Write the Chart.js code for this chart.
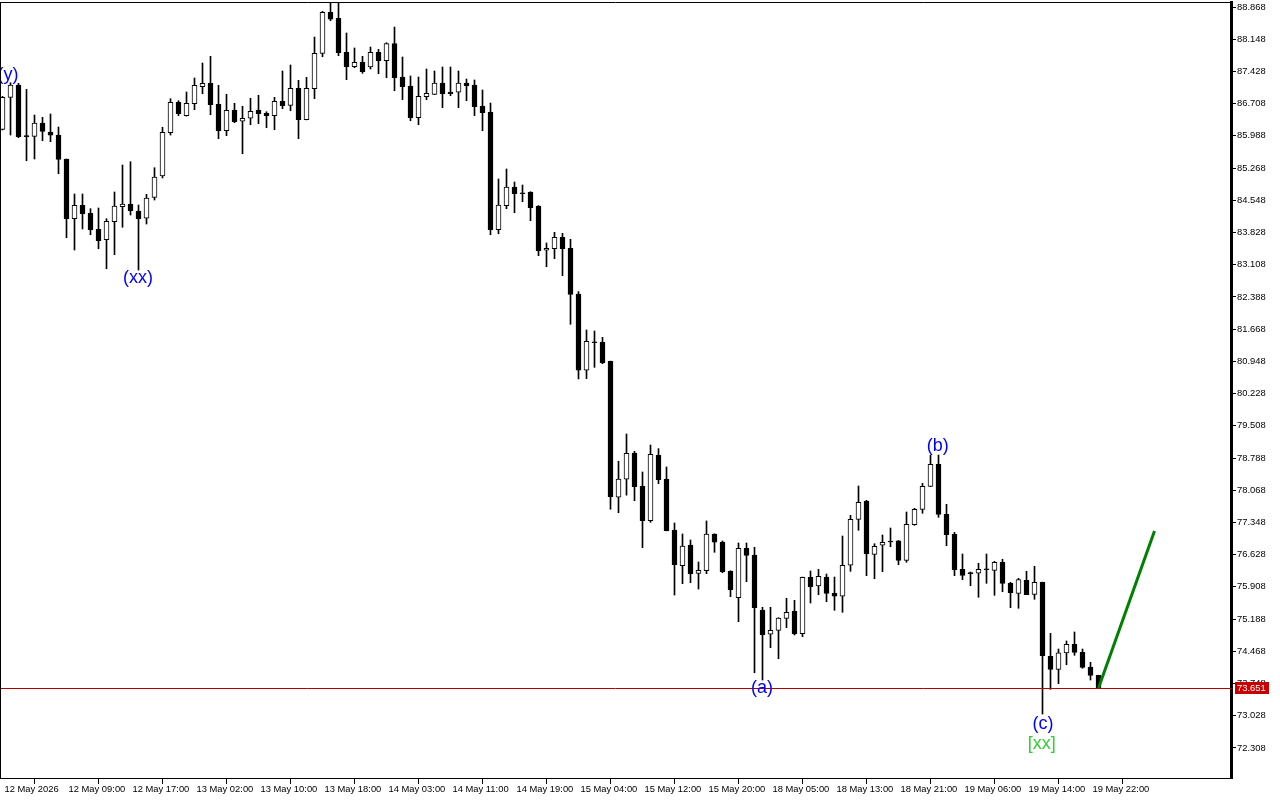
<!DOCTYPE html>
<html>
<head>
<meta charset="utf-8">
<script src="https://cdn.jsdelivr.net/npm/chart.js@4"></script>
<style>
html,body{margin:0;padding:0;background:#fff;overflow:hidden;}
canvas{display:block;}
</style>
</head>
<body>
<canvas id="c" width="1280" height="800"></canvas>
<script>
// ---- data (hourly candles, index 0..137) ----
const openP = [86.135,86.850,87.125,85.978,85.978,86.275,86.075,86.007,85.471,84.137,
84.437,84.258,83.900,83.668,84.070,84.405,84.465,84.309,84.146,84.615,
85.091,86.059,86.738,86.439,86.707,87.087,87.163,86.694,86.103,86.559,
86.314,86.381,86.559,86.492,86.439,86.760,86.671,87.051,86.350,87.042,
87.833,88.750,88.615,87.855,87.534,87.632,87.527,87.855,87.668,88.048,
87.303,87.103,86.394,86.863,86.917,87.170,86.968,86.962,87.170,87.125,
86.656,86.522,83.891,84.428,84.845,84.704,84.734,84.421,83.431,83.467,
83.721,83.476,82.454,80.749,81.374,81.374,80.950,77.911,78.313,78.900,
78.156,77.387,78.849,78.320,77.180,76.382,76.844,76.210,76.270,77.091,
76.912,76.263,75.667,76.770,76.621,75.392,74.849,74.938,75.206,75.363,
74.862,76.122,75.928,76.129,75.765,75.698,76.391,77.418,77.828,76.636,
76.838,76.934,76.940,76.502,77.298,77.642,78.156,78.648,77.530,77.083,
76.301,76.218,76.212,76.301,76.279,76.458,75.988,75.765,76.055,75.742,
76.011,74.357,74.066,74.430,74.625,74.446,74.118,73.932];
const highP = [86.870,87.176,87.163,87.029,86.454,86.403,86.477,86.186,85.471,84.689,
84.689,84.361,84.376,84.137,84.734,85.337,85.411,84.443,84.682,85.277,
86.179,86.819,86.774,86.968,87.281,87.616,87.766,87.118,86.917,86.716,
86.649,86.828,86.894,86.528,86.850,87.438,87.572,87.230,87.297,88.197,
88.772,88.957,88.957,88.287,87.952,87.766,87.974,87.922,88.070,88.420,
87.751,87.326,87.303,87.482,87.438,87.527,87.527,87.438,87.259,87.237,
87.013,86.722,85.024,85.248,84.957,84.890,84.740,84.430,83.594,83.833,
83.810,83.676,82.506,81.650,81.627,81.486,80.955,78.716,79.325,78.938,
78.476,79.079,78.998,78.588,77.336,77.091,76.956,76.464,77.382,77.095,
76.935,76.268,76.889,76.889,76.792,75.452,75.452,75.220,75.653,75.608,
76.128,76.263,76.301,76.196,76.129,77.045,77.508,78.163,77.843,76.873,
77.068,77.224,76.945,77.582,77.664,78.223,78.855,78.855,77.754,77.128,
76.643,76.241,76.435,76.643,76.480,76.525,76.011,76.100,76.256,76.368,
76.015,74.871,74.520,74.699,74.900,74.520,74.222,73.935];
const lowP = [86.120,86.007,85.947,85.433,85.471,85.880,85.858,85.142,83.712,83.437,
83.907,83.779,83.466,83.019,83.332,83.945,84.219,82.990,84.018,84.555,
85.047,86.007,86.439,86.430,86.573,86.930,86.461,85.925,85.992,86.282,
85.589,86.238,86.260,86.170,86.126,86.595,86.550,85.925,86.345,86.819,
87.757,88.562,87.780,87.243,87.511,87.386,87.482,87.378,87.288,86.997,
86.796,86.327,86.238,86.796,86.910,86.618,86.885,86.618,86.774,86.439,
86.103,83.779,83.801,84.361,84.271,84.517,84.092,83.310,83.064,83.243,
82.863,81.777,80.556,80.563,80.815,80.896,77.643,77.567,77.958,77.834,
76.784,77.351,78.215,77.160,75.726,75.979,76.002,75.860,76.203,76.681,
76.225,75.689,75.130,76.024,73.990,73.827,74.549,74.303,74.996,74.833,
74.795,75.548,75.734,75.577,75.385,75.340,76.256,77.173,76.158,76.091,
76.248,76.806,76.404,76.458,77.284,77.553,78.150,77.463,76.829,76.158,
76.069,75.935,75.676,75.988,75.720,75.800,75.443,75.430,75.734,75.631,
73.067,73.619,73.744,74.169,74.379,74.089,73.827,73.633];
const closeP = [86.850,87.125,85.969,85.970,86.275,86.090,86.001,85.464,84.137,84.437,
84.249,83.891,83.645,84.079,84.421,84.465,84.316,84.137,84.599,85.069,
86.067,86.738,86.483,86.716,87.118,87.163,86.685,86.103,86.559,86.305,
86.381,86.537,86.483,86.439,86.760,86.662,87.051,86.350,87.051,87.833,
88.750,88.594,87.847,87.534,87.632,87.422,87.855,87.668,88.048,87.288,
87.087,86.394,86.872,86.939,87.170,86.930,86.930,87.170,87.109,86.640,
86.506,83.891,84.443,84.845,84.696,84.695,84.383,83.421,83.476,83.721,
83.467,82.447,80.749,81.397,81.365,80.912,77.924,78.320,78.894,78.147,
77.387,78.871,78.304,77.165,76.405,76.822,76.203,76.277,77.091,76.906,
76.248,75.845,76.770,76.614,75.443,74.840,74.938,75.213,75.340,74.855,
76.122,75.912,76.145,75.765,75.698,76.391,77.418,77.799,76.650,76.815,
76.904,76.912,76.502,77.307,77.642,78.156,78.648,77.530,77.075,76.292,
76.167,76.203,76.301,76.292,76.458,75.988,75.778,76.069,75.734,76.011,
74.370,74.066,74.437,74.625,74.446,74.111,73.932,73.651];

// time labels at every 8th candle
const xTickIndex = [0,8,16,24,32,40,48,56,64,72,80,88,96,104,112,120,128,136];
const xTickLabels = ["12 May 2026","12 May 09:00","12 May 17:00","13 May 02:00","13 May 10:00",
"13 May 18:00","14 May 03:00","14 May 11:00","14 May 19:00","15 May 04:00","15 May 12:00",
"15 May 20:00","18 May 05:00","18 May 13:00","18 May 21:00","19 May 06:00","19 May 14:00","19 May 22:00"];
const yTicks = [72.308,73.028,73.748,74.468,75.188,75.908,76.628,77.348,78.068,78.788,79.508,
80.228,80.948,81.668,82.388,83.108,83.828,84.548,85.268,85.988,86.708,87.428,88.148,88.868];

const currentPrice = 73.651;
const projIndex = [137, 144];
const projPrice = [73.651, 77.157];

const waveText  = ["(y)","(xx)","(a)","(b)","(c)","[xx]"];
const waveIndex = [0.7,16.95,94.95,116.9,130.05,129.9];
const wavePrice = [87.348,82.811,73.637,79.046,72.844,72.397];
const waveColor = ["#0000ff","#0000ff","#0000ff","#0000ff","#0000ff","#32cd32"];

// ---- chart ----
const N = openP.length;
const idx = Array.from({length:N},(_,i)=>i);
const AXIS_FONT = {family:"'Liberation Sans', Arial, sans-serif", size:9.4};

const extras = {
  id:'extras',
  afterDatasetsDraw(chart){
    const {ctx, chartArea:a, scales:{x,y}} = chart;
    ctx.save();
    const py = Math.round(y.getPixelForValue(currentPrice)) + 0.5;
    ctx.strokeStyle = '#b00000'; ctx.lineWidth = 1;
    ctx.beginPath(); ctx.moveTo(a.left, py); ctx.lineTo(a.right, py); ctx.stroke();
    ctx.strokeStyle = '#008000'; ctx.lineWidth = 3;
    ctx.beginPath();
    ctx.moveTo(x.getPixelForValue(projIndex[0]), y.getPixelForValue(projPrice[0]));
    ctx.lineTo(x.getPixelForValue(projIndex[1]), y.getPixelForValue(projPrice[1]));
    ctx.stroke();
    ctx.font = "18px 'Liberation Sans', Arial, sans-serif";
    ctx.textAlign = 'center'; ctx.textBaseline = 'middle';
    for (let k=0;k<waveText.length;k++){
      ctx.fillStyle = waveColor[k];
      ctx.fillText(waveText[k], x.getPixelForValue(waveIndex[k]), y.getPixelForValue(wavePrice[k]));
    }
    ctx.restore();
  },
  afterDraw(chart){
    const {ctx, chartArea:a, scales:{y}} = chart;
    ctx.save();
    ctx.strokeStyle = '#000'; ctx.lineWidth = 1;
    ctx.beginPath(); ctx.moveTo(0, a.top+0.5); ctx.lineTo(a.right, a.top+0.5); ctx.stroke();
    ctx.beginPath(); ctx.moveTo(0.5, a.top); ctx.lineTo(0.5, a.bottom); ctx.stroke();
    const py = Math.round(y.getPixelForValue(currentPrice));
    ctx.fillStyle = '#c80000';
    ctx.fillRect(a.right+4, py-6, 34, 12);
    ctx.fillStyle = '#fff';
    ctx.font = "9.4px 'Liberation Sans', Arial, sans-serif";
    ctx.textAlign = 'left'; ctx.textBaseline = 'middle';
    ctx.fillText(currentPrice.toFixed(3), a.right+6, py+0.5);
    ctx.restore();
  }
};

function zeroPad(s){ s.paddingTop = 0; s.paddingBottom = 0; s.paddingLeft = 0; s.paddingRight = 0; }

new Chart(document.getElementById('c'), {
  type: 'bar',
  data: {
    datasets: [
      {
        label:'body',
        data: idx.map(i=>({x:i, y:[openP[i], closeP[i]]})),
        backgroundColor: idx.map(i=> closeP[i] >= openP[i] ? '#ffffff' : '#000000'),
        borderColor:'#000000', borderWidth:1, borderSkipped:false,
        barThickness:5, grouped:false, minBarLength:1, order:1
      },
      {
        label:'wick',
        data: idx.map(i=>({x:i, y:[lowP[i], highP[i]]})),
        backgroundColor:'#000000', borderWidth:0,
        barThickness:1, grouped:false, order:2
      }
    ]
  },
  options: {
    responsive:false, animation:false, devicePixelRatio:1,
    layout:{padding:{top:2,left:0,right:0,bottom:0}},
    plugins:{legend:{display:false}, tooltip:{enabled:false}},
    scales:{
      x:{
        type:'linear', min:-0.3125, max:153.5625, offset:false,
        grid:{drawOnChartArea:false, drawTicks:true, tickLength:6, color:'#000'},
        border:{display:true, color:'#000', width:1},
        afterBuildTicks(s){ s.ticks = xTickIndex.map(v=>({value:v})); },
        afterFit(s){ s.height = 22; zeroPad(s); },
        ticks:{
          autoSkip:false, maxRotation:0, minRotation:0, align:'start', labelOffset:2, padding:0,
          color:'#000', font:AXIS_FONT,
          callback(v){ const k = xTickIndex.indexOf(v); return k>=0 ? xTickLabels[k] : ''; }
        }
      },
      y:{
        type:'linear', position:'right', min:71.637, max:88.980,
        grid:{drawOnChartArea:false, drawTicks:true, tickLength:5, color:'#000'},
        border:{display:true, color:'#000', width:3},
        afterBuildTicks(s){ s.ticks = yTicks.map(v=>({value:v})); },
        afterFit(s){ s.width = 49; zeroPad(s); },
        ticks:{ padding:1, color:'#000', font:AXIS_FONT, callback(v){ return Number(v).toFixed(3); } }
      }
    }
  },
  plugins:[extras]
});
</script>
</body>
</html>
